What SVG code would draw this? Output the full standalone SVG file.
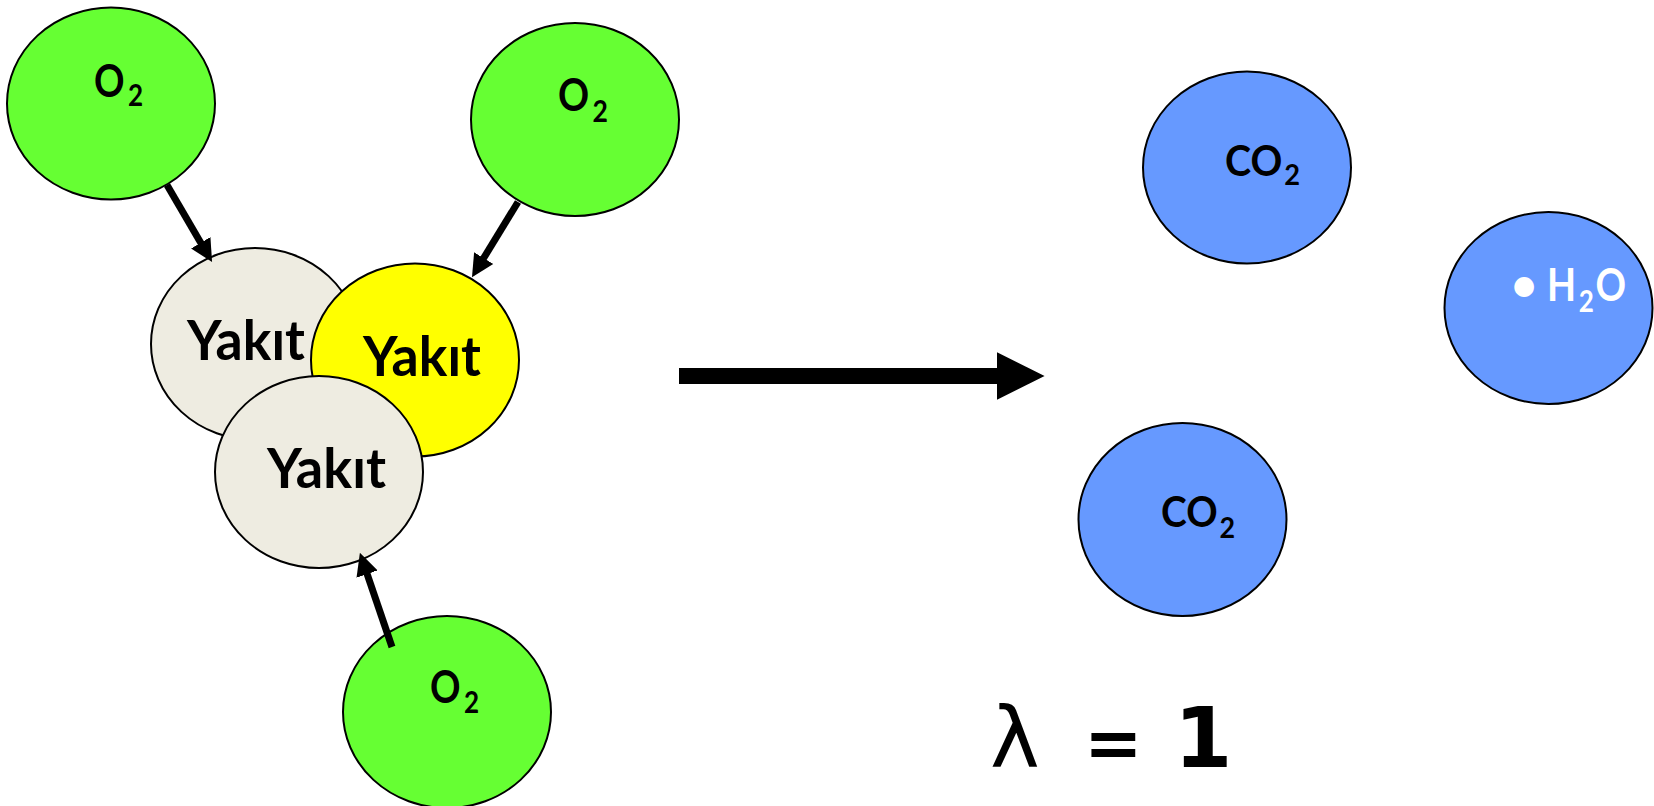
<svg xmlns="http://www.w3.org/2000/svg" width="1654" height="806" viewBox="0 0 1654 806">
<style>
.n{stroke:#000;stroke-width:2}
.o2{fill:#66FF33}
.fuel{fill:#EEECE1}
.fuelY{fill:#FFFF00}
.prod{fill:#6699FF}
.lbl{font-family:Lato,"Open Sans","Liberation Sans",sans-serif;font-weight:bold;fill:#000}
.sm{font-size:45px}
.sub{font-size:31px}
.md{font-size:42px}
.sub2{font-size:29px}
.yk{font-size:55px}
.wh{fill:#fff}
.con{stroke:#000;fill:none}
</style>
<defs>
<marker id="ah" viewBox="0 0 10 10" refX="1" refY="5" markerWidth="3.2" markerHeight="3.4" markerUnits="strokeWidth" orient="auto">
<path d="M0,0 L10,5 L0,10 z" fill="#000"/>
</marker>
<marker id="ahBig" viewBox="0 0 10 10" refX="0.5" refY="5" markerWidth="3" markerHeight="3" markerUnits="strokeWidth" orient="auto">
<path d="M0,0 L10,5 L0,10 z" fill="#000"/>
</marker>
</defs>
<rect width="1654" height="806" fill="#fff"/>

<g id="o2-top-left">
<ellipse class="n o2" cx="111" cy="103.5" rx="104" ry="96"/>
<text class="lbl sm" x="94" y="97" textLength="49" lengthAdjust="spacingAndGlyphs">O<tspan class="sub" dx="4" dy="9">2</tspan></text>
</g>
<g id="o2-top-right">
<ellipse class="n o2" cx="575" cy="119.5" rx="104" ry="96.5"/>
<text class="lbl sm" x="558" y="111" textLength="50" lengthAdjust="spacingAndGlyphs">O<tspan class="sub" dx="4" dy="11">2</tspan></text>
</g>
<g id="yakit-left">
<ellipse class="n fuel" cx="255" cy="344" rx="104" ry="96"/>
<text class="lbl yk" x="187" y="360" textLength="118" lengthAdjust="spacingAndGlyphs">Yakıt</text>
</g>
<g id="yakit-yellow">
<ellipse class="n fuelY" cx="415" cy="360" rx="104" ry="96.5"/>
<text class="lbl yk" x="363" y="376" textLength="118" lengthAdjust="spacingAndGlyphs">Yakıt</text>
</g>
<g id="yakit-bottom">
<ellipse class="n fuel" cx="319" cy="472" rx="104" ry="96"/>
<text class="lbl yk" x="267" y="488" textLength="119" lengthAdjust="spacingAndGlyphs">Yakıt</text>
</g>
<g id="o2-bottom">
<ellipse class="n o2" cx="447" cy="712" rx="104" ry="96"/>
<text class="lbl sm" x="430" y="703" textLength="49" lengthAdjust="spacingAndGlyphs">O<tspan class="sub" dx="4" dy="10">2</tspan></text>
</g>

<g id="co2-top">
<ellipse class="n prod" cx="1247" cy="167.5" rx="104" ry="96"/>
<text class="lbl md" x="1225" y="176" textLength="75" lengthAdjust="spacingAndGlyphs">CO<tspan class="sub2" dx="2" dy="9">2</tspan></text>
</g>
<g id="h2o">
<ellipse class="n prod" cx="1548.5" cy="308" rx="104" ry="96"/>
<text class="lbl sm wh" x="1511" y="301">•</text>
<text class="lbl sm wh" x="1547" y="301" textLength="79" lengthAdjust="spacingAndGlyphs">H<tspan class="sub" dx="3" dy="11">2</tspan><tspan dx="2" dy="-11">O</tspan></text>
</g>
<g id="co2-bottom">
<ellipse class="n prod" cx="1182.5" cy="519.5" rx="104" ry="96.5"/>
<text class="lbl md" x="1161" y="527" textLength="74" lengthAdjust="spacingAndGlyphs">CO<tspan class="sub2" dx="2" dy="11">2</tspan></text>
</g>

<g id="lambda">
<text y="767" font-family="'DejaVu Sans',sans-serif" font-weight="bold" font-size="84" fill="#000"><tspan x="990" font-weight="normal">λ</tspan> <tspan x="1084" font-size="70">=</tspan> <tspan x="1174">1</tspan></text>
</g>

<g id="connectors">
<line class="con" x1="167" y1="185" x2="201.9" y2="244.7" stroke-width="7" marker-end="url(#ah)"/>
<line class="con" x1="518" y1="202" x2="482.5" y2="260" stroke-width="7" marker-end="url(#ah)"/>
<line class="con" x1="392" y1="647" x2="366.4" y2="571.9" stroke-width="7" marker-end="url(#ah)"/>
<line class="con" x1="679" y1="376" x2="999" y2="376" stroke-width="16" marker-end="url(#ahBig)"/>
</g>
</svg>
